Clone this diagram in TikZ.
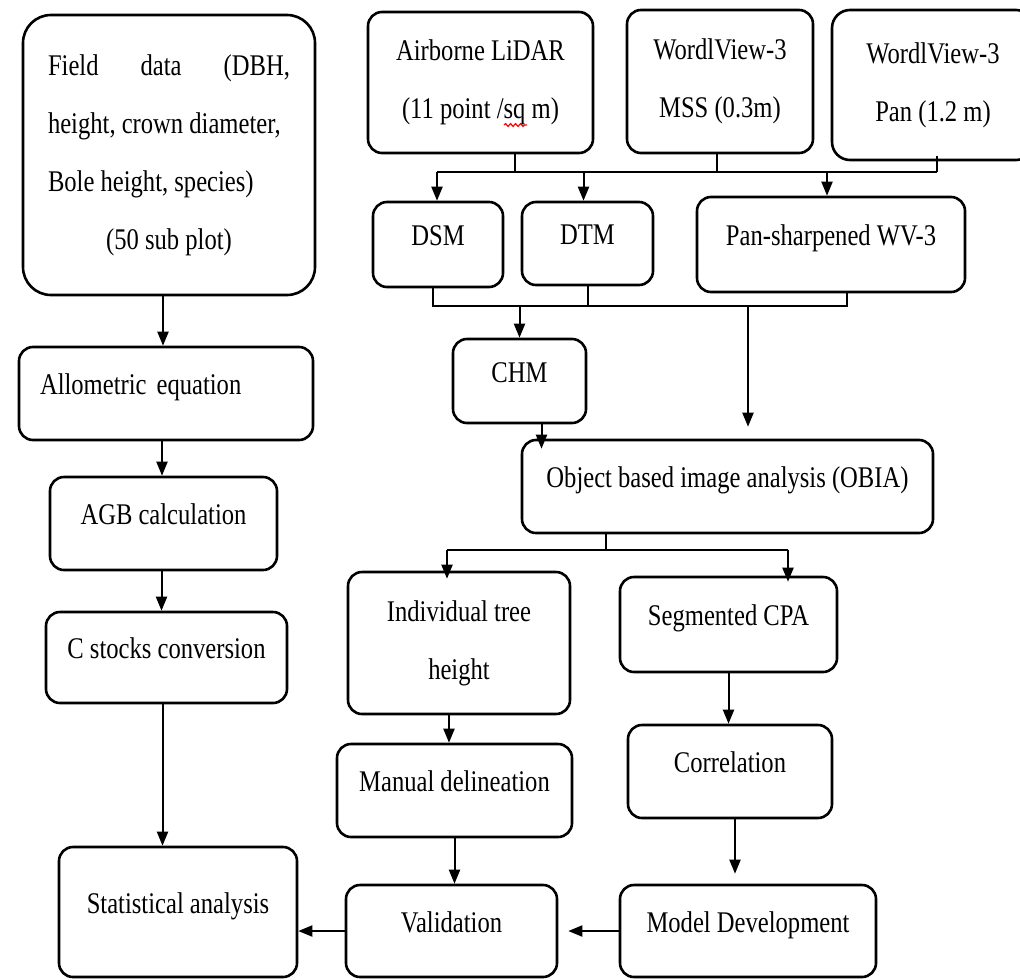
\documentclass[tikz,border=0pt]{standalone}
\usepackage{fontspec}
\setmainfont[FakeStretch=0.82]{Liberation Serif}
\usetikzlibrary{arrows.meta, decorations.pathmorphing}

\begin{document}
\begin{tikzpicture}[x=0.5pt, y=-0.5pt, >={Stealth[length=7pt,width=5.5pt,inset=0pt]},
  box/.style={draw, rounded corners=7pt, line width=1.3pt, inner sep=0pt, align=center,
    font=\fontsize{15pt}{29pt}\selectfont},
  lift/.style={text height=10pt, text depth=9pt},
  link/.style={line width=1pt}]
\useasboundingbox (0,0) rectangle (1020,979);

% field side
\node[box, rounded corners=14pt, minimum width=146pt, minimum height=140pt, align=left] (field) at (169,155)
  {\makebox[121pt]{Field\hfill data\hfill (DBH,}\\ \makebox[121pt][l]{height, crown diameter,}\\
   \makebox[121pt][l]{Bole height, species)}\\ \makebox[121pt]{(50 sub plot)}};
\node[box, lift, minimum width=147pt, minimum height=46.5pt, text width=126pt, align=left] (allo) at (166,393.5) {Allometric equation};
\node[box, lift, minimum width=113.5pt, minimum height=46.5pt] (agb) at (163.5,523.5) {AGB calculation};
\node[box, lift, minimum width=120.5pt, minimum height=45.5pt] (cstock) at (166.5,657.5) {C stocks conversion};
\node[box, lift, minimum width=119pt, minimum height=65pt] (stat) at (178,912) {Statistical analysis};

% remote sensing side
\node[box, minimum width=112.5pt, minimum height=70.5pt] (lidar) at (480.5,82.5) {Airborne LiDAR\\(11 point /sq m)};
\node[box, minimum width=93pt, minimum height=71.5pt] (mss) at (720,81.5) {WordlView-3\\MSS (0.3m)};
\node[box, rounded corners=9pt, minimum width=101pt, minimum height=75pt] (pan) at (933,85) {WordlView-3\\Pan (1.2 m)};
\node[box, lift, minimum width=65pt, minimum height=42.5pt] (dsm) at (438,244.5) {DSM};
\node[box, lift, minimum width=65.5pt, minimum height=41.5pt] (dtm) at (587.5,243.5) {DTM};
\node[box, lift, minimum width=134pt, minimum height=47.5pt] (pshp) at (831,244.5) {Pan-sharpened WV-3};
\node[box, lift, minimum width=66.5pt, minimum height=42pt] (chm) at (519.5,381) {CHM};
\node[box, lift, minimum width=205.5pt, minimum height=46.5pt] (obia) at (727.5,486.5) {Object based image analysis (OBIA)};
\node[box, minimum width=111pt, minimum height=71pt] (indiv) at (459,643) {Individual tree\\height};
\node[box, lift, minimum width=108.5pt, minimum height=47.5pt] (seg) at (728.5,624.5) {Segmented CPA};
\node[box, lift, minimum width=117.5pt, minimum height=46.5pt] (manual) at (454.5,790.5) {Manual delineation};
\node[box, lift, minimum width=102pt, minimum height=46.5pt] (corr) at (730,771.5) {Correlation};
\node[box, lift, minimum width=105.5pt, minimum height=46pt] (valid) at (451.5,931) {Validation};
\node[box, lift, minimum width=128pt, minimum height=46pt] (model) at (748,931) {Model Development};

% spell-check mark under "sq"
\draw[red, line width=0.6pt, decorate, decoration={snake, amplitude=0.7pt, segment length=2.5pt}] (504,125) -- (527,125);

% left column
\draw[link, ->] ([xshift=-3pt]field.south) -- ([xshift=-3pt]field.south |- allo.north);
\draw[link, ->] ([xshift=-2pt]allo.south) -- ([xshift=-2pt]allo.south |- agb.north);
\draw[link, ->] ([xshift=-1pt]agb.south) -- ([xshift=-1pt]agb.south |- cstock.north);
\draw[link, ->] ([xshift=-2pt]cstock.south) -- ([xshift=-2pt]cstock.south |- stat.north);

% first bus
\coordinate (busA) at (437,172);
\coordinate (busZ) at ([xshift=2pt]pan.south |- busA);
\draw[link] (busA) -- (busZ);
\draw[link] ([xshift=17pt]lidar.south) -- ([xshift=17pt]lidar.south |- busA);
\draw[link] ([xshift=-1.5pt]mss.south) -- ([xshift=-1.5pt]mss.south |- busA);
\draw[link] ([xshift=2pt,yshift=2.5pt]pan.south) -- (busZ);
\draw[link, ->] (busA) -- (busA |- dsm.north);
\draw[link, ->] ([xshift=-2pt]dtm.north |- busA) -- ([xshift=-2pt]dtm.north);
\draw[link, ->] ([xshift=-2pt]pshp.north |- busA) -- ([xshift=-2pt]pshp.north);

% second bus
\coordinate (busB) at (433,306);
\coordinate (busY) at (847,306);
\coordinate (tapP) at (748,306);
\draw[link] (busB |- dsm.south) -- (busB) -- (busY) -- (busY |- pshp.south);
\draw[link] (dtm.south) -- (dtm.south |- busB);
\draw[link, ->] (chm.north |- busB) -- (chm.north);
\draw[link, ->, shorten >=6pt] (tapP) -- (tapP |- obia.north);
\draw[link, ->, shorten >=-5pt] ([xshift=11pt]chm.south) -- ([xshift=11pt]chm.south |- obia.north);

% third bus
\coordinate (busC) at (447,550);
\coordinate (busX) at (788,550);
\coordinate (tapO) at (606,550);
\draw[link] (tapO |- obia.south) -- (tapO);
\draw[link] (busC) -- (busX);
\draw[link, ->, shorten >=-4pt] (busC) -- (busC |- indiv.north);
\draw[link, ->, shorten >=-3pt] (busX) -- (busX |- seg.north);

% lower part
\draw[link, ->] ([xshift=-5pt]indiv.south) -- ([xshift=-5pt]indiv.south |- manual.north);
\draw[link, ->] (manual.south) -- (manual.south |- valid.north);
\draw[link, ->] (seg.south) -- (seg.south |- corr.north);
\draw[link, ->, shorten >=5pt] ([xshift=2.5pt]corr.south) -- ([xshift=2.5pt]corr.south |- model.north);
\draw[link, ->, shorten >=5pt] (model.west) -- (model.west -| valid.east);
\draw[link, ->] (valid.west) -- (valid.west -| stat.east);
\end{tikzpicture}
\end{document}
